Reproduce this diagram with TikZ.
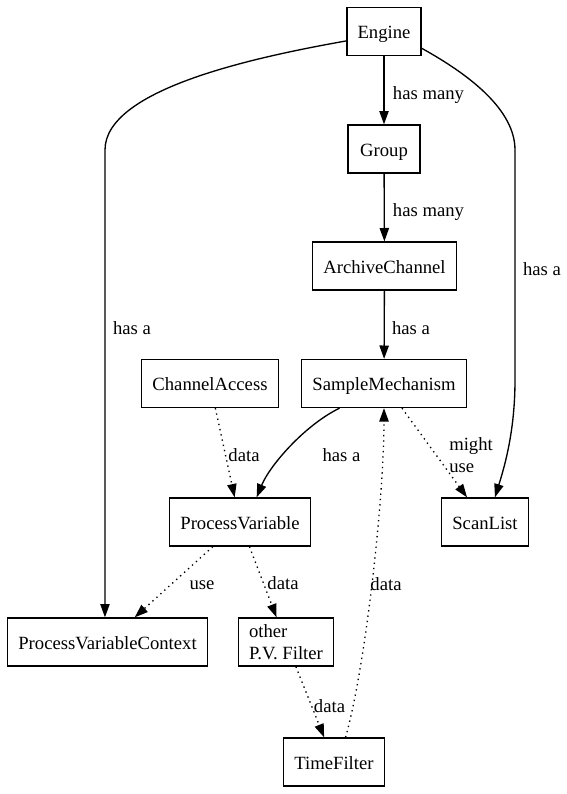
\documentclass[tikz,border=0pt]{standalone}
\usepackage{fontspec}
\setmainfont{Liberation Serif}
\usetikzlibrary{arrows.meta}
\begin{document}
\begin{tikzpicture}[x=0.75pt,y=-0.75pt,
  box/.style={draw, line width=1pt, minimum height=36pt, minimum width=54pt,
    inner xsep=8pt, inner ysep=4pt, font=\fontsize{14pt}{16pt}\selectfont},
  oneline/.style={text height=12pt, text depth=1pt},
  lbl/.style={font=\fontsize{14pt}{16pt}\selectfont, inner sep=0pt},
  edge/.style={line width=1pt, -{Triangle[length=10pt,width=7pt]}},
  dotedge/.style={edge, dash pattern=on 1pt off 3pt}]
\useasboundingbox (0,0) rectangle (567,794);
% nodes
\node[box, oneline] (engine) at (384,31.5) {Engine};
\node[box, oneline] (group) at (384,149) {Group};
\node[box, oneline] (ac) at (384.5,266) {ArchiveChannel};
\node[box, oneline] (sm) at (384,383.5) {SampleMechanism};
\node[box, oneline] (ca) at (210,383.5) {ChannelAccess};
\node[box, oneline] (pv) at (240,522) {ProcessVariable};
\node[box, oneline] (scan) at (485,522) {ScanList};
\node[box, oneline] (pvc) at (107.5,642) {ProcessVariableContext};
\node[box, align=left] (other) at (286,642) {other\\P.V. Filter};
\node[box, oneline] (tf) at (334,762) {TimeFilter};
% edges
\draw[edge] (engine) -- (group);
\draw[edge] (group) -- (ac);
\draw[edge] (ac) -- (sm);
\draw[edge] (engine.194) .. controls (250,58) and (105,90) .. (105,150) -- ([xshift=-1.9pt]pvc.north);
\draw[edge] (engine.-24) .. controls (470,75) and (515,110) .. (515,150) -- (515,380)
  .. controls (515,430) and (505,465) .. (scan.68);
\draw[edge] (sm.209) .. controls (305,425) and (270,465) .. (pv.56);
\draw[dotedge] (ca) -- (pv);
\draw[dotedge] (sm) -- (scan);
\draw[dotedge] (pv) -- (pvc);
\draw[dotedge] (pv) -- (other);
\draw[dotedge] (other) -- (tf);
\draw[dotedge] (tf.65) .. controls (365,670) and (384,500) .. (sm.south);
% labels
\node[lbl, oneline] (l1) at (428.5,92) {has many};
\node[lbl, oneline] (l2) at (428.5,209) {has many};
\node[lbl, oneline] (l3) at (411,327) {has a};
\node[lbl, oneline] (l4) at (132,327) {has a};
\node[lbl, oneline] (l5) at (542,268) {has a};
\node[lbl, oneline] (l6) at (341.5,454) {has a};
\node[lbl, oneline] (l7) at (244,454) {data};
\node[lbl, align=left, anchor=west] (l8) at (449,455) {might\\use};
\node[lbl, oneline] (l9) at (202,582) {use};
\node[lbl, oneline] (l10) at (283,582) {data};
\node[lbl, oneline] (l11) at (386,583) {data};
\node[lbl, oneline] (l12) at (329.5,705) {data};
\end{tikzpicture}
\end{document}
